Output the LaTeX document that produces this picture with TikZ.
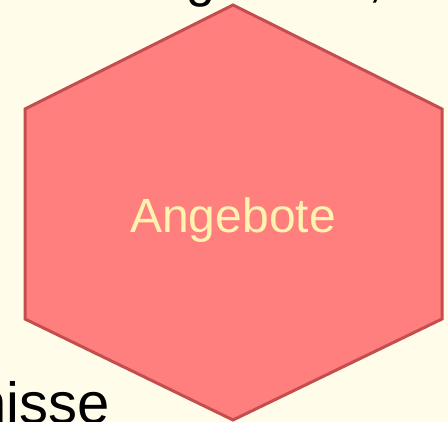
\documentclass[tikz,border=0pt]{standalone}
\usepackage{fontspec}
\setmainfont{Liberation Sans}
\definecolor{bgcream}{RGB}{255,253,234}
\definecolor{hexfill}{RGB}{255,127,127}
\definecolor{hexline}{RGB}{196,78,78}
\definecolor{hextext}{RGB}{255,243,176}
\begin{document}
\begin{tikzpicture}[x=1pt,y=1pt,
  hexshape/.style={fill=hexfill,draw=hexline,line width=3pt,line join=miter},
  hexlabel/.style={text=hextext,font=\fontsize{48}{57}\selectfont,inner sep=0pt,anchor=base},
  outlabel/.style={text=black,inner sep=0pt}]
\useasboundingbox (0,0) rectangle (448,422);
\clip (0,0) rectangle (448,422);
\fill[bgcream] (0,0) rectangle (448,422);
\coordinate (t) at (233,417);
\coordinate (ur) at (442,313);
\coordinate (lr) at (442,103);
\coordinate (b) at (233,2);
\coordinate (ll) at (25,103);
\coordinate (ul) at (25,313);
\draw[hexshape] (t) -- (ur) -- (lr) -- (b) -- (ll) -- (ul) -- cycle;
\node[hexlabel] (lab) at (233,189) {Angebote};
\node[outlabel,font=\fontsize{52}{62}\selectfont,anchor=base east] (top) at (383,425) {Erfahrungswerte,};
\node[outlabel,font=\fontsize{58}{70}\selectfont,anchor=base east] (bot) at (110,-2) {Ergebnisse};
\end{tikzpicture}
\end{document}
